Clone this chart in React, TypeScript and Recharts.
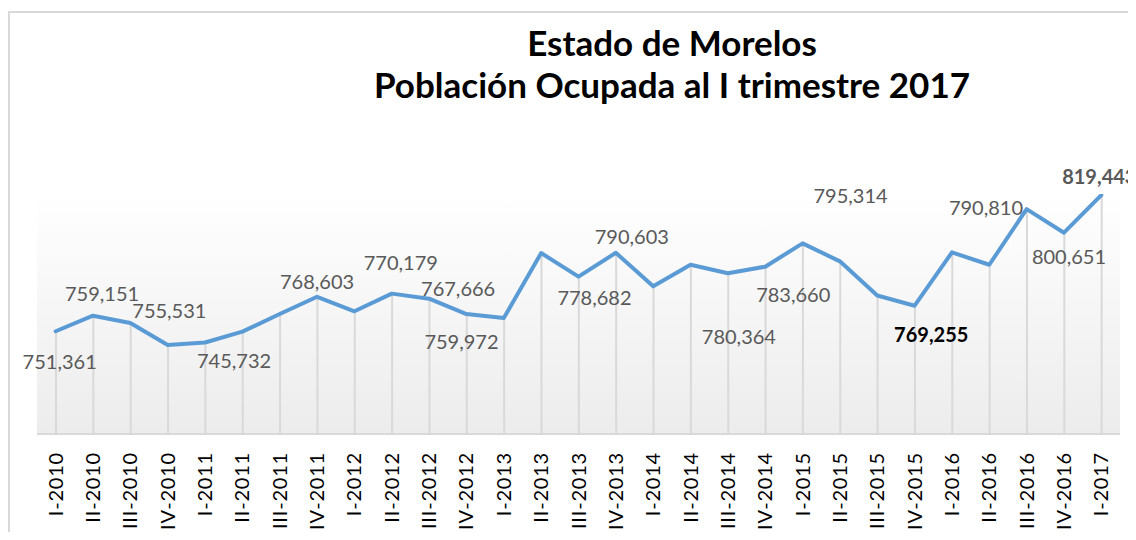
import React from 'react';
import { ComposedChart, Line, Bar, XAxis, YAxis, CartesianGrid } from 'recharts';

// quarters shown on the category axis
const quarters = [
  'I-2010', 'II-2010', 'III-2010', 'IV-2010',
  'I-2011', 'II-2011', 'III-2011', 'IV-2011',
  'I-2012', 'II-2012', 'III-2012', 'IV-2012',
  'I-2013', 'II-2013', 'III-2013', 'IV-2013',
  'I-2014', 'II-2014', 'III-2014', 'IV-2014',
  'I-2015', 'II-2015', 'III-2015', 'IV-2015',
  'I-2016', 'II-2016', 'III-2016', 'IV-2016',
  'I-2017',
];

const ocupados = [
  751361, 759151, 755531, 744520,
  745732, 751160, 760000, 768603,
  761350, 770179, 767666, 759972,
  758000, 790470, 778682, 790603,
  773840, 784630, 780364, 783660,
  795314, 786330, 769255, 764150,
  790810, 784630, 812450, 800651,
  819443,
];

// quarters that carry a data label
const labelled = [
  'I-2010', 'II-2010', 'III-2010', 'I-2011', 'IV-2011', 'II-2012', 'III-2012', 'IV-2012',
  'III-2013', 'IV-2013', 'III-2014', 'IV-2014', 'I-2015', 'III-2015', 'I-2016', 'IV-2016', 'I-2017',
];
const boldLabels = ['III-2015', 'I-2017'];

const data = quarters.map((q, i) => ({ q, v: ocupados[i] }));

// label placement relative to its point (moved by hand in the original)
const labelOffset: Record<string, [number, number]> = {
  'I-2010': [4, 31],
  'II-2010': [9, -22],
  'III-2010': [39, -12],
  'I-2011': [29, 18],
  'IV-2011': [0, -15],
  'II-2012': [9, -31],
  'III-2012': [29, -10],
  'IV-2012': [-5, 28],
  'III-2013': [16, 21],
  'IV-2013': [16, -16],
  'III-2014': [11, 64],
  'IV-2014': [28, 28],
  'I-2015': [48, -47],
  'III-2015': [54, 40],
  'I-2016': [34, -44],
  'IV-2016': [5, 24],
  'I-2017': [-2, -18],
};

const FONT = 'Lato, "Noto Sans", sans-serif';

const renderLabel = (props: any) => {
  const { x, y, value, index } = props;
  const q = quarters[index];
  if (!labelled.includes(q)) return null;
  const [dx, dy] = labelOffset[q] || [0, -15];
  const bold = boldLabels.includes(q);
  return (
    <text
      key={`lbl-${index}`}
      x={x + dx}
      y={y + dy + 7}
      textAnchor="middle"
      fontFamily={FONT}
      fontSize={20}
      fontWeight={bold ? 700 : 400}
      fill={q === 'III-2015' ? '#000000' : '#595959'}
    >
      {Number(value).toLocaleString('en-US')}
    </text>
  );
};

const QuarterTick = (props: any) => {
  const { x, y, payload } = props;
  return (
    <g transform={`translate(${x},${y})`}>
      <text
        transform="rotate(-90)"
        x={-18}
        y={0}
        dy={7}
        textAnchor="end"
        fontFamily={FONT}
        fontSize={20}
        letterSpacing={0.8}
        fill="#000000"
      >
        {payload.value}
      </text>
    </g>
  );
};

export default function App() {
  return (
    <div style={{ position: 'relative', width: 1128, height: 532, marginBottom: -8, overflow: 'hidden', background: '#fff' }}>
      <div
        style={{
          position: 'absolute',
          left: 0,
          top: 3,
          width: 1300,
          height: 700,
          border: '2px solid #d9d9d9',
        }}
      />
      <svg width={1128} height={120} style={{ position: 'absolute', left: 0, top: 0 }}>
        <text x={664} y={48} textAnchor="middle" fontFamily={FONT} fontWeight={700} fontSize={35} fill="#000">
          Estado de Morelos
        </text>
        <text x={664} y={90} textAnchor="middle" fontFamily={FONT} fontWeight={700} fontSize={35} fill="#000">
          Población Ocupada al I trimestre 2017
        </text>
      </svg>
      <div style={{ position: 'absolute', left: 0, top: 0 }}>
        <ComposedChart
          width={1128}
          height={532}
          data={data}
          margin={{ top: 186, right: 16, left: 29, bottom: 6 }}
        >
          <defs>
            <linearGradient id="plotBg" x1="0" y1="0" x2="0" y2="1">
              <stop offset="0%" stopColor="#ffffff" />
              <stop offset="100%" stopColor="#ececec" />
            </linearGradient>
          </defs>
          <CartesianGrid horizontal={false} vertical={false} fill="url(#plotBg)" stroke="none" />
          <XAxis
            dataKey="q"
            interval={0}
            height={100}
            tickSize={0}
            tickMargin={0}
            tickLine={false}
            axisLine={{ stroke: '#d9d9d9', strokeWidth: 2 }}
            tick={<QuarterTick />}
          />
          <YAxis hide domain={[700000, 820000]} allowDataOverflow />
          <Bar dataKey="v" barSize={2} fill="#d9d9d9" isAnimationActive={false} />
          <Line
            type="linear"
            dataKey="v"
            stroke="#5b9bd5"
            strokeWidth={4}
            strokeLinejoin="round"
            strokeLinecap="round"
            dot={false}
            activeDot={false}
            label={renderLabel}
            isAnimationActive={false}
          />
        </ComposedChart>
      </div>
    </div>
  );
}
